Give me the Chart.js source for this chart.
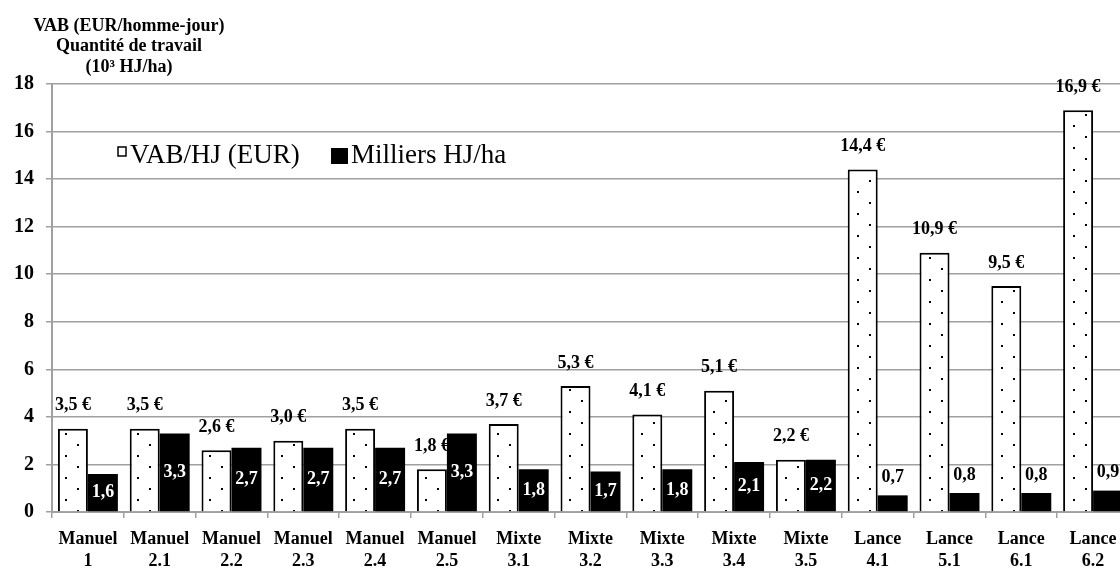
<!DOCTYPE html>
<html><head><meta charset="utf-8">
<script src="https://cdn.jsdelivr.net/npm/chart.js@4.4.0/dist/chart.umd.min.js"></script>
<style>
html,body{margin:0;padding:0;overflow:hidden;background:#fff;width:1120px;height:568px}
#wrap{position:relative;width:1135px;height:568px}
</style></head>
<body><div id="wrap"><canvas id="c"></canvas></div>
<script>
const categories = [["Manuel","1"],["Manuel","2.1"],["Manuel","2.2"],["Manuel","2.3"],["Manuel","2.4"],["Manuel","2.5"],["Mixte","3.1"],["Mixte","3.2"],["Mixte","3.3"],["Mixte","3.4"],["Mixte","3.5"],["Lance","4.1"],["Lance","5.1"],["Lance","6.1"],["Lance","6.2"]];
const vabValues = [3.5, 3.5, 2.6, 3.0, 3.5, 1.8, 3.7, 5.3, 4.1, 5.1, 2.2, 14.4, 10.9, 9.5, 16.9];
const hjValues = [1.6, 3.3, 2.7, 2.7, 2.7, 3.3, 1.8, 1.7, 1.8, 2.1, 2.2, 0.7, 0.8, 0.8, 0.9];
const seriesLabels = ["VAB/HJ (EUR)", "Milliers HJ/ha"];
const axisTitleLines = ["VAB (EUR/homme-jour)", "Quantité de travail", "(10³ HJ/ha)"];
const yMin = 0, yMax = 18, yStep = 2;

const SERIF = "'Liberation Serif', 'Times New Roman', serif";
const GRID = '#a0a0a0';

// dotted pattern
const tile = document.createElement('canvas');
tile.width = 24; tile.height = 22;
const tc = tile.getContext('2d');
tc.fillStyle = '#fff'; tc.fillRect(0,0,24,22);
tc.fillStyle = '#000';
tc.fillRect(5,4,2,2);
tc.fillRect(17,15,2,2);
const ctx = document.getElementById('c').getContext('2d');
const dots = ctx.createPattern(tile, 'repeat');

const fmt = v => v.toFixed(1).replace('.', ',');

const labelPlugin = {
  id: 'labels',
  afterDatasetsDraw(chart) {
    const c = chart.ctx;
    c.save();
    c.font = "bold 18px " + SERIF;
    c.textAlign = 'center';
    c.textBaseline = 'middle';
    const m0 = chart.getDatasetMeta(0);
    m0.data.forEach((bar, i) => {
      c.fillStyle = '#000';
      c.fillText(fmt(vabValues[i]) + ' €', bar.x, bar.y - 23);
    });
    const m1 = chart.getDatasetMeta(1);
    m1.data.forEach((bar, i) => {
      const v = hjValues[i];
      if (v >= 1) {
        c.fillStyle = '#fff';
        c.fillText(fmt(v), bar.x, (bar.y + bar.base) / 2);
      } else {
        c.fillStyle = '#000';
        c.fillText(fmt(v), bar.x, bar.y - 18);
      }
    });
    c.restore();
  },
  afterDraw(chart) {
    const c = chart.ctx;
    c.save();
    c.fillStyle = '#000';
    c.textAlign = 'center';
    c.textBaseline = 'middle';
    c.font = "bold 18px " + SERIF;
    axisTitleLines.forEach((t, i) => c.fillText(t, 129, 26 + i * 20.5));
    // legend
    c.textAlign = 'left';
    c.font = "27px " + SERIF;
    c.fillStyle = '#fff';
    c.fillRect(118, 147, 8, 9);
    c.strokeStyle = '#000'; c.lineWidth = 1.5;
    c.strokeRect(118, 147, 8, 9);
    c.fillStyle = '#000';
    c.fillText(seriesLabels[0], 130, 156);
    c.fillRect(331, 148, 17, 16);
    c.fillText(seriesLabels[1], 351, 156);
    c.restore();
  }
};

new Chart(ctx, {
  type: 'bar',
  data: {
    labels: categories,
    datasets: [
      { label: seriesLabels[0], data: vabValues, backgroundColor: dots, borderColor: '#000', borderWidth: 2,
        categoryPercentage: 0.835, barPercentage: 1.0 },
      { label: seriesLabels[1], data: hjValues, backgroundColor: '#000', borderColor: '#000', borderWidth: 0,
        categoryPercentage: 0.835, barPercentage: 1.0 }
    ]
  },
  options: {
    responsive: true, maintainAspectRatio: false, animation: false, devicePixelRatio: 1,
    layout: { padding: { top: 84, right: 6, bottom: 0, left: 0 } },
    plugins: { legend: { display: false }, tooltip: { enabled: false } },
    scales: {
      x: {
        grid: { offset: true, drawOnChartArea: false, color: GRID, lineWidth: 1.5, tickLength: 6 },
        border: { color: GRID, width: 2 },
        ticks: { color: '#000', font: { family: SERIF, size: 18, weight: 'bold', lineHeight: 1.2 }, padding: 11, maxRotation: 0, autoSkip: false },
        afterFit: s => { s.height = 56; }
      },
      y: {
        min: yMin, max: yMax,
        grid: { color: GRID, lineWidth: 1.5, tickLength: 6 },
        border: { color: GRID, width: 2 },
        ticks: { stepSize: yStep, color: '#000', font: { family: SERIF, size: 20, weight: 'bold' }, padding: 12 },
        afterFit: s => { s.width = 52; }
      }
    }
  },
  plugins: [labelPlugin]
});
</script>
</body></html>
